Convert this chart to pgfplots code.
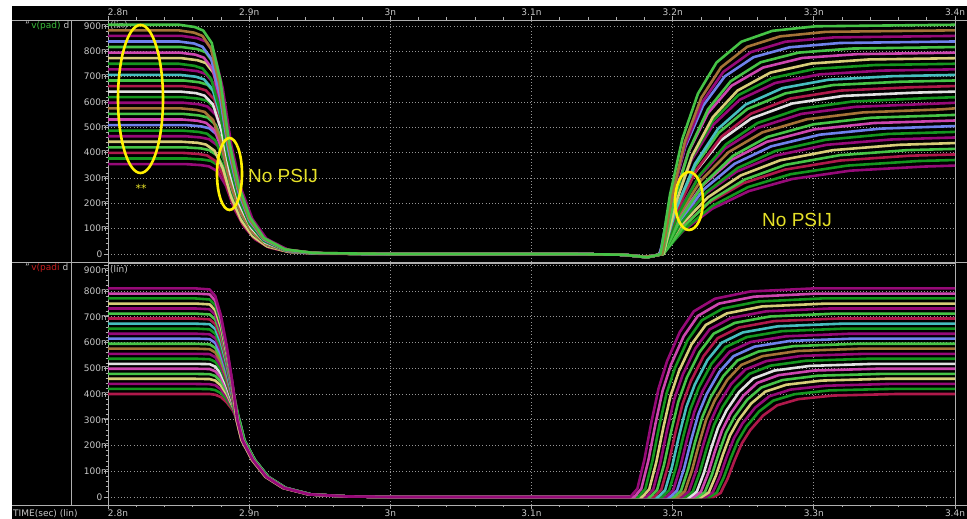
\documentclass[border=0pt]{standalone}
\usepackage{pgfplots}
\pgfplotsset{compat=1.18}
\usepackage{fontspec}
\setmainfont{DejaVu Sans}
\newfontfamily\arialf{Liberation Sans}
\definecolor{wg}{RGB}{20,150,30}
\definecolor{wm}{RGB}{150,10,120}
\definecolor{wy}{RGB}{215,205,120}
\definecolor{wb}{RGB}{110,130,235}
\definecolor{wh}{RGB}{70,195,70}
\definecolor{wr}{RGB}{175,25,75}
\definecolor{ww}{RGB}{225,225,225}
\definecolor{wn}{RGB}{165,115,55}
\definecolor{wc}{RGB}{70,190,190}
\definecolor{wp}{RGB}{205,70,175}
\definecolor{labc}{RGB}{200,200,200}
\definecolor{axc}{RGB}{175,175,175}
\definecolor{gridc}{RGB}{150,150,150}
\definecolor{vg}{RGB}{60,190,60}
\definecolor{vr}{RGB}{200,30,30}
\definecolor{yel}{RGB}{255,240,0}
\definecolor{yel2}{RGB}{230,225,40}
\newcommand{\lbl}{\fontsize{9}{10}\selectfont}
\pgfplotsset{wave/.style={
 anchor=south west, scale only axis, width=847pt, height=242pt,
 xmin=2.8, xmax=3.4,
 xtick={2.8,2.9,3.0,3.1,3.2,3.3,3.4}, minor x tick num=4,
 ytick={0,100,200,300,400,500,600,700,800,900}, minor y tick num=4,
 xticklabels={}, yticklabels={},
 every tick label/.append style={overlay},
 ytick pos=left,
 tick align=outside,
 major tick length=4pt, minor tick length=2.5pt,
 grid=major,
 major grid style={draw=gridc, line width=0.7pt, dash pattern=on 1pt off 2.2pt},
 axis line style={draw=axc, line width=0.9pt},
 every tick/.style={draw=axc, line width=0.8pt},
 every axis plot/.append style={line width=2.6pt, line join=round},
}}
\begin{document}
\begin{tikzpicture}[x=1pt,y=1pt]
\useasboundingbox (0,0) rectangle (967,519);
\fill[white] (0,0) rectangle (967,519);
\fill[black] (12,0) rectangle (967,513);
% x tick labels
\foreach \xp/\lab in {118/2.8n,249.2/2.9n,390.3/3n,531.5/3.1n,672.7/3.2n,813.8/3.3n,955/3.4n}{
 \node[anchor=base,inner sep=0pt,text=labc,font=\lbl] at (\xp,503) {\lab};
 \node[anchor=base,inner sep=0pt,text=labc,font=\lbl] at (\xp,2.5) {\lab};
}
% y tick labels top
\foreach \yp/\lab in {290.3/100m,315.7/200m,341/300m,366.3/400m,391.7/500m,417/600m,442.3/700m,467.7/800m,493/900m}{
 \node[anchor=east,inner sep=0pt,text=labc,font=\lbl] at (110,\yp) {\lab};
}
\node[anchor=east,inner sep=0pt,text=labc,font=\lbl] at (102.5,265) {0};
\node[anchor=west,inner sep=0pt,text=labc,font=\lbl] at (110,493) {(lin)};
% y tick labels bottom
\foreach \yp/\lab in {47.75/100m,73.5/200m,99.25/300m,125/400m,150.75/500m,176.5/600m,202.25/700m,228/800m,249/900m}{
 \node[anchor=east,inner sep=0pt,text=labc,font=\lbl] at (110,\yp) {\lab};
}
\node[anchor=east,inner sep=0pt,text=labc,font=\lbl] at (102.5,22) {0};
\node[anchor=west,inner sep=0pt,text=labc,font=\lbl] at (110,249) {(lin)};
\node[anchor=base west,inner sep=0pt,font=\lbl] at (25,490.5) {\textcolor{labc}{"}\,\textcolor{vg}{v(pad)}~\textcolor{labc}{d}};
\node[anchor=base west,inner sep=0pt,font=\lbl] at (25,248.5) {\textcolor{labc}{"}\,\textcolor{vr}{v(padi}~\textcolor{labc}{d}};
\node[anchor=base west,inner sep=0pt,text=labc,font=\lbl] at (13,2.5) {TIME(sec) (lin)};

% ---------------- top panel: v(pad) ----------------
\begin{axis}[wave, at={(108pt,257pt)}, ymin=-31.6, ymax=923.8, xtick pos=right]
\addplot[wm] coordinates {(2.8,355) (2.83,355) (2.8545,355) (2.8655,351) (2.8715,346) (2.8775,327) (2.8835,270) (2.8895,178) (2.8965,107) (2.9045,57) (2.9145,25) (2.9295,7) (2.9495,1) (3.0,0) (3.13,0) (3.165,-3) (3.180,-11) (3.187,-7) (3.192,0) (3.2075,92) (3.2281,179) (3.2538,248) (3.2847,296) (3.3259,329) (3.3774,345) (3.4,349)};
\addplot[wg] coordinates {(2.8,377) (2.83,377) (2.8558,377) (2.8668,373) (2.8728,368) (2.8788,347) (2.8848,287) (2.8908,189) (2.8978,113) (2.9058,60) (2.9158,26) (2.9308,8) (2.9508,2) (3.0,0) (3.13,0) (3.165,-3) (3.182,-13) (3.187,-7) (3.193,0) (3.2081,98) (3.2282,190) (3.2534,264) (3.2835,315) (3.3238,349) (3.3741,367) (3.4,371)};
\addplot[wr] coordinates {(2.8,399) (2.83,399) (2.8532,399) (2.8642,395) (2.8702,389) (2.8762,367) (2.8822,303) (2.8882,200) (2.8952,120) (2.9032,64) (2.9132,28) (2.9282,8) (2.9482,2) (3.0,0) (3.13,0) (3.165,-3) (3.180,-11) (3.187,-7) (3.191,0) (3.2057,103) (3.2254,201) (3.2499,279) (3.2794,333) (3.3187,369) (3.3678,388) (3.4,393)};
\addplot[wh] coordinates {(2.8,421) (2.83,421) (2.8548,421) (2.8658,417) (2.8718,410) (2.8778,387) (2.8838,320) (2.8898,211) (2.8968,126) (2.9048,67) (2.9148,29) (2.9298,8) (2.9498,2) (3.0,0) (3.13,0) (3.165,-3) (3.182,-13) (3.187,-7) (3.1935,0) (3.2079,109) (3.2271,212) (3.2511,294) (3.2799,352) (3.3183,390) (3.3663,410) (3.4,415)};
\addplot[wy] coordinates {(2.8,443) (2.83,443) (2.8524,443) (2.8634,439) (2.8694,432) (2.8754,408) (2.8814,337) (2.8874,222) (2.8944,133) (2.9024,71) (2.9124,31) (2.9274,9) (2.9474,2) (3.0,0) (3.13,0) (3.165,-3) (3.180,-11) (3.187,-7) (3.192,0) (3.2060,115) (3.2248,223) (3.2482,310) (3.2762,370) (3.3137,410) (3.3605,431) (3.4,438)};
\addplot[wm] coordinates {(2.8,465) (2.83,465) (2.8547,465) (2.8657,460) (2.8717,453) (2.8777,428) (2.8837,353) (2.8897,233) (2.8967,140) (2.9047,74) (2.9147,33) (2.9297,9) (2.9497,2) (3.0,0) (3.13,0) (3.165,-3) (3.182,-13) (3.187,-7) (3.1905,0) (3.2042,120) (3.2224,234) (3.2452,325) (3.2726,388) (3.3091,431) (3.3547,452) (3.4,460)};
\addplot[wg] coordinates {(2.8,487) (2.83,487) (2.8531,487) (2.8641,482) (2.8701,475) (2.8761,448) (2.8821,370) (2.8881,244) (2.8951,146) (2.9031,78) (2.9131,34) (2.9281,10) (2.9481,2) (3.0,0) (3.13,0) (3.165,-3) (3.180,-11) (3.187,-7) (3.193,0) (3.2063,126) (3.2241,245) (3.2463,340) (3.2729,407) (3.3084,451) (3.3528,474) (3.4,482)};
\addplot[wb] coordinates {(2.8,509) (2.83,509) (2.8549,509) (2.8659,504) (2.8719,496) (2.8779,468) (2.8839,387) (2.8899,255) (2.8969,153) (2.9049,81) (2.9149,36) (2.9299,10) (2.9499,2) (3.0,0) (3.13,0) (3.165,-3) (3.182,-13) (3.187,-7) (3.192,0) (3.2050,132) (3.2222,256) (3.2438,356) (3.2698,425) (3.3043,471) (3.3475,495) (3.4,505)};
\addplot[wp] coordinates {(2.8,531) (2.83,531) (2.8524,531) (2.8634,526) (2.8694,518) (2.8754,489) (2.8814,404) (2.8874,266) (2.8944,159) (2.9024,85) (2.9124,37) (2.9274,11) (2.9474,2) (3.0,0) (3.13,0) (3.165,-3) (3.180,-11) (3.187,-7) (3.191,0) (3.2036,138) (3.2205,267) (3.2415,371) (3.2668,443) (3.3005,492) (3.3426,517) (3.4,527)};
\addplot[wh] coordinates {(2.8,553) (2.83,553) (2.8535,553) (2.8645,547) (2.8705,539) (2.8765,509) (2.8825,420) (2.8885,277) (2.8955,166) (2.9035,88) (2.9135,39) (2.9285,11) (2.9485,2) (3.0,0) (3.13,0) (3.165,-3) (3.182,-13) (3.187,-7) (3.1935,0) (3.2058,143) (3.2221,278) (3.2426,387) (3.2671,462) (3.2998,512) (3.3407,538) (3.4,549)};
\addplot[wn] coordinates {(2.8,575) (2.83,575) (2.8514,575) (2.8624,569) (2.8684,561) (2.8744,529) (2.8804,437) (2.8864,288) (2.8934,173) (2.9014,92) (2.9114,40) (2.9264,12) (2.9464,2) (3.0,0) (3.13,0) (3.165,-3) (3.180,-11) (3.187,-7) (3.192,0) (3.2039,149) (3.2198,289) (3.2396,402) (3.2635,480) (3.2952,532) (3.3349,559) (3.3905,571) (3.4,575)};
\addplot[wm] coordinates {(2.8,597) (2.83,597) (2.8535,597) (2.8645,591) (2.8705,582) (2.8765,549) (2.8825,454) (2.8885,299) (2.8955,179) (2.9035,96) (2.9135,42) (2.9285,12) (2.9485,2) (3.0,0) (3.13,0) (3.165,-3) (3.182,-13) (3.187,-7) (3.191,0) (3.2026,155) (3.2180,300) (3.2372,417) (3.2603,498) (3.2911,553) (3.3296,581) (3.3835,593) (3.4,597)};
\addplot[wg] coordinates {(2.8,619) (2.83,619) (2.8536,619) (2.8646,613) (2.8706,604) (2.8766,569) (2.8826,470) (2.8886,310) (2.8956,186) (2.9036,99) (2.9136,43) (2.9286,12) (2.9486,2) (3.0,0) (3.13,0) (3.165,-3) (3.180,-11) (3.187,-7) (3.193,0) (3.2042,160) (3.2191,311) (3.2378,433) (3.2601,517) (3.2900,573) (3.3273,602) (3.3795,615) (3.4,619)};
\addplot[ww] coordinates {(2.8,641) (2.83,641) (2.8514,641) (2.8624,635) (2.8684,625) (2.8744,590) (2.8804,487) (2.8864,321) (2.8934,192) (2.9014,103) (2.9114,45) (2.9264,13) (2.9464,3) (3.0,0) (3.13,0) (3.165,-3) (3.182,-13) (3.187,-7) (3.1905,0) (3.2014,166) (3.2158,322) (3.2339,448) (3.2557,535) (3.2846,594) (3.3208,624) (3.3715,637) (3.4,641)};
\addplot[wr] coordinates {(2.8,663) (2.83,663) (2.8523,663) (2.8633,656) (2.8693,646) (2.8753,610) (2.8813,504) (2.8873,332) (2.8943,199) (2.9023,106) (2.9123,46) (2.9273,13) (2.9473,3) (3.0,0) (3.13,0) (3.165,-3) (3.180,-11) (3.187,-7) (3.1925,0) (3.2030,172) (3.2170,333) (3.2345,463) (3.2555,554) (3.2835,614) (3.3185,645) (3.3675,658) (3.4,663)};
\addplot[wh] coordinates {(2.8,685) (2.83,685) (2.8536,685) (2.8646,678) (2.8706,668) (2.8766,630) (2.8826,521) (2.8886,343) (2.8956,206) (2.9036,110) (2.9136,48) (2.9286,14) (2.9486,3) (3.0,0) (3.13,0) (3.165,-3) (3.182,-13) (3.187,-7) (3.192,0) (3.2021,177) (3.2157,345) (3.2326,479) (3.2528,572) (3.2799,634) (3.3137,667) (3.3610,680) (3.4,685)};
\addplot[wc] coordinates {(2.8,707) (2.83,707) (2.8511,707) (2.8621,700) (2.8681,689) (2.8741,650) (2.8801,537) (2.8861,354) (2.8931,212) (2.9011,113) (2.9111,49) (2.9261,14) (2.9461,3) (3.0,0) (3.13,0) (3.165,-3) (3.180,-11) (3.187,-7) (3.193,0) (3.2028,183) (3.2158,356) (3.2321,494) (3.2517,590) (3.2778,655) (3.3104,688) (3.3560,702) (3.4,707)};
\addplot[wm] coordinates {(2.8,729) (2.83,729) (2.8522,729) (2.8632,722) (2.8692,711) (2.8752,671) (2.8812,554) (2.8872,365) (2.8942,219) (2.9022,117) (2.9122,51) (2.9272,15) (2.9472,3) (3.0,0) (3.13,0) (3.165,-3) (3.182,-13) (3.187,-7) (3.191,0) (3.2004,189) (3.2130,367) (3.2287,510) (3.2475,609) (3.2726,675) (3.3040,709) (3.3480,724) (3.4,729)};
\addplot[wg] coordinates {(2.8,751) (2.83,751) (2.8501,751) (2.8611,743) (2.8671,732) (2.8731,691) (2.8791,571) (2.8851,376) (2.8921,225) (2.9001,120) (2.9101,53) (2.9251,15) (2.9451,3) (3.0,0) (3.13,0) (3.165,-3) (3.180,-11) (3.187,-7) (3.192,0) (3.2011,195) (3.2132,378) (3.2284,525) (3.2465,627) (3.2708,695) (3.3011,731) (3.3435,746) (3.4,751)};
\addplot[wy] coordinates {(2.8,773) (2.83,773) (2.8523,773) (2.8633,765) (2.8693,754) (2.8753,711) (2.8813,587) (2.8873,387) (2.8943,232) (2.9023,124) (2.9123,54) (2.9273,15) (2.9473,3) (3.0,0) (3.13,0) (3.165,-3) (3.182,-13) (3.187,-7) (3.1935,0) (3.2022,200) (3.2139,389) (3.2284,540) (3.2459,645) (3.2692,716) (3.2983,752) (3.3390,768) (3.4,773)};
\addplot[wp] coordinates {(2.8,795) (2.83,795) (2.8509,795) (2.8619,787) (2.8679,775) (2.8739,731) (2.8799,604) (2.8859,398) (2.8929,239) (2.9009,127) (2.9109,56) (2.9259,16) (2.9459,3) (3.0,0) (3.13,0) (3.165,-3) (3.180,-11) (3.187,-7) (3.1915,0) (3.1999,206) (3.2110,400) (3.2250,556) (3.2417,664) (3.2640,736) (3.2919,774) (3.3310,789) (3.4,795)};
\addplot[wh] coordinates {(2.8,817) (2.83,817) (2.8521,817) (2.8631,809) (2.8691,797) (2.8751,752) (2.8811,621) (2.8871,409) (2.8941,245) (2.9021,131) (2.9121,57) (2.9271,16) (2.9471,3) (3.0,0) (3.13,0) (3.165,-3) (3.182,-13) (3.187,-7) (3.193,0) (3.2010,212) (3.2117,411) (3.2250,571) (3.2411,682) (3.2624,757) (3.2891,795) (3.3265,811) (3.4,817)};
\addplot[wb] coordinates {(2.8,839) (2.83,839) (2.8500,839) (2.8610,831) (2.8670,818) (2.8730,772) (2.8790,638) (2.8850,420) (2.8920,252) (2.9000,134) (2.9100,59) (2.9250,17) (2.9450,3) (3.0,0) (3.13,0) (3.165,-3) (3.180,-11) (3.187,-7) (3.191,0) (3.1987,217) (3.2089,422) (3.2216,586) (3.2369,701) (3.2573,777) (3.2828,816) (3.3185,833) (3.4,839)};
\addplot[wm] coordinates {(2.8,861) (2.83,861) (2.8523,861) (2.8633,852) (2.8693,839) (2.8753,792) (2.8813,654) (2.8873,431) (2.8943,258) (2.9023,138) (2.9123,60) (2.9273,17) (2.9473,3) (3.0,0) (3.13,0) (3.165,-3) (3.182,-13) (3.187,-7) (3.192,0) (3.1993,223) (3.2091,433) (3.2213,602) (3.2359,719) (3.2554,797) (3.2798,838) (3.3140,855) (3.4,861)};
\addplot[wn] coordinates {(2.8,883) (2.83,883) (2.8499,883) (2.8609,874) (2.8669,861) (2.8729,812) (2.8789,671) (2.8849,442) (2.8919,265) (2.8999,141) (2.9099,62) (2.9249,18) (2.9449,4) (3.0,0) (3.13,0) (3.165,-3) (3.180,-11) (3.187,-7) (3.1925,0) (3.1995,229) (3.2087,444) (3.2203,617) (3.2343,737) (3.2528,818) (3.2760,859) (3.3085,877) (3.4,883)};
\addplot[wh] coordinates {(2.8,905) (2.83,905) (2.8505,905) (2.8615,896) (2.8675,882) (2.8735,833) (2.8795,688) (2.8855,453) (2.8925,272) (2.9005,145) (2.9105,63) (2.9255,18) (2.9455,4) (3.0,0) (3.13,0) (3.165,-3) (3.182,-13) (3.187,-7) (3.1915,0) (3.1981,234) (3.2069,455) (3.2179,633) (3.2311,756) (3.2487,838) (3.2707,881) (3.3015,899) (3.4,905)};
\end{axis}

% ---------------- bottom panel: v(padi) ----------------
\begin{axis}[wave, at={(108pt,14pt)}, ymin=-31.1, ymax=908.7, xtick pos=left]
\addplot[wr] coordinates {(2.8,400) (2.84,400) (2.862,400) (2.872,400) (2.876,397) (2.880,388) (2.884,368) (2.888,340) (2.892,300) (2.8956,221) (2.903,144) (2.9126,78) (2.925,35) (2.943,10) (2.97,2) (3.0,0) (3.229,0) (3.234,16) (3.239,72) (3.244,144) (3.249,208) (3.255,260) (3.264,316) (3.274,356) (3.289,380) (3.314,394) (3.359,400) (3.4,400)};
\addplot[wg] coordinates {(2.8,420) (2.84,420) (2.862,420) (2.872,419) (2.876,415) (2.880,403) (2.884,379) (2.888,345) (2.893,300) (2.8966,221) (2.904,144) (2.9136,78) (2.926,35) (2.944,10) (2.97,2) (3.0,0) (3.2262,0) (3.2312,17) (3.2362,76) (3.2412,151) (3.2462,218) (3.2522,273) (3.2612,332) (3.2712,374) (3.2862,399) (3.3112,414) (3.3562,420) (3.4,420)};
\addplot[wm] coordinates {(2.8,439) (2.84,439) (2.862,439) (2.872,438) (2.876,434) (2.880,418) (2.884,389) (2.888,350) (2.891,300) (2.8946,221) (2.902,144) (2.9116,78) (2.924,35) (2.942,10) (2.97,2) (3.0,0) (3.2234,0) (3.2284,18) (3.2334,79) (3.2384,158) (3.2434,228) (3.2494,285) (3.2584,347) (3.2684,391) (3.2834,417) (3.3084,432) (3.3534,439) (3.4,439)};
\addplot[wy] coordinates {(2.8,459) (2.84,459) (2.862,459) (2.872,458) (2.876,452) (2.880,433) (2.884,400) (2.888,356) (2.8925,300) (2.8961,221) (2.9035,144) (2.9131,78) (2.9255,35) (2.9435,10) (2.97,2) (3.0,0) (3.2206,0) (3.2256,18) (3.2306,83) (3.2356,165) (3.2406,239) (3.2466,298) (3.2556,363) (3.2656,409) (3.2806,436) (3.3056,452) (3.3506,459) (3.4,459)};
\addplot[wh] coordinates {(2.8,478) (2.84,478) (2.862,478) (2.872,477) (2.876,470) (2.880,448) (2.884,410) (2.888,361) (2.8915,300) (2.8951,221) (2.9025,144) (2.9121,78) (2.9245,35) (2.9425,10) (2.97,2) (3.0,0) (3.2178,0) (3.2228,19) (3.2278,86) (3.2328,172) (3.2378,249) (3.2438,311) (3.2528,378) (3.2628,425) (3.2778,454) (3.3028,471) (3.3478,478) (3.4,478)};
\addplot[wp] coordinates {(2.8,498) (2.84,498) (2.862,498) (2.872,497) (2.876,488) (2.880,464) (2.884,421) (2.888,366) (2.893,300) (2.8966,221) (2.904,144) (2.9136,78) (2.926,35) (2.944,10) (2.97,2) (3.0,0) (3.215,0) (3.220,20) (3.225,90) (3.230,179) (3.235,259) (3.241,324) (3.250,393) (3.260,443) (3.275,473) (3.300,491) (3.345,498) (3.4,498)};
\addplot[ww] coordinates {(2.8,517) (2.84,517) (2.862,517) (2.872,516) (2.876,506) (2.880,479) (2.884,431) (2.888,371) (2.892,300) (2.8956,221) (2.903,144) (2.9126,78) (2.925,35) (2.943,10) (2.97,2) (3.0,0) (3.2121,0) (3.2171,21) (3.2221,93) (3.2271,186) (3.2321,269) (3.2381,336) (3.2471,408) (3.2571,460) (3.2721,491) (3.2971,509) (3.3421,517) (3.4,517)};
\addplot[wg] coordinates {(2.8,537) (2.84,537) (2.862,537) (2.872,535) (2.876,525) (2.880,494) (2.884,442) (2.888,377) (2.891,300) (2.8946,221) (2.902,144) (2.9116,78) (2.924,35) (2.942,10) (2.97,2) (3.0,0) (3.2093,0) (3.2143,21) (3.2193,97) (3.2243,193) (3.2293,279) (3.2353,349) (3.2443,424) (3.2543,478) (3.2693,510) (3.2943,529) (3.3393,537) (3.4,537)};
\addplot[wm] coordinates {(2.8,556) (2.84,556) (2.862,556) (2.872,555) (2.876,543) (2.880,509) (2.884,453) (2.888,382) (2.8925,300) (2.8961,221) (2.9035,144) (2.9131,78) (2.9255,35) (2.9435,10) (2.97,2) (3.0,0) (3.2065,0) (3.2115,22) (3.2165,100) (3.2215,200) (3.2265,289) (3.2325,361) (3.2415,439) (3.2515,495) (3.2665,528) (3.2915,548) (3.3365,556) (3.4,556)};
\addplot[wn] coordinates {(2.8,576) (2.84,576) (2.862,576) (2.872,574) (2.876,561) (2.880,524) (2.884,463) (2.888,387) (2.892,300) (2.8956,221) (2.903,144) (2.9126,78) (2.925,35) (2.943,10) (2.97,2) (3.0,0) (3.2037,0) (3.2087,23) (3.2137,104) (3.2187,207) (3.2237,300) (3.2297,374) (3.2387,455) (3.2487,513) (3.2637,547) (3.2887,567) (3.3337,576) (3.4,576)};
\addplot[wh] coordinates {(2.8,595) (2.84,595) (2.862,595) (2.872,593) (2.876,579) (2.880,539) (2.884,474) (2.888,392) (2.8915,300) (2.8951,221) (2.9025,144) (2.9121,78) (2.9245,35) (2.9425,10) (2.97,2) (3.0,0) (3.2009,0) (3.2059,24) (3.2109,107) (3.2159,214) (3.2209,309) (3.2269,387) (3.2359,470) (3.2459,530) (3.2609,565) (3.2859,586) (3.3309,595) (3.4,595)};
\addplot[wb] coordinates {(2.8,615) (2.84,615) (2.862,615) (2.872,613) (2.876,598) (2.880,554) (2.884,484) (2.888,398) (2.893,300) (2.8966,221) (2.904,144) (2.9136,78) (2.926,35) (2.944,10) (2.97,2) (3.0,0) (3.1981,0) (3.2031,25) (3.2081,111) (3.2131,221) (3.2181,320) (3.2241,400) (3.2331,486) (3.2431,547) (3.2581,584) (3.2831,606) (3.3281,615) (3.4,615)};
\addplot[wm] coordinates {(2.8,634) (2.84,634) (2.862,634) (2.872,632) (2.876,616) (2.880,569) (2.884,495) (2.888,403) (2.891,300) (2.8946,221) (2.902,144) (2.9116,78) (2.924,35) (2.942,10) (2.97,2) (3.0,0) (3.1953,0) (3.2003,25) (3.2053,114) (3.2103,228) (3.2153,330) (3.2213,412) (3.2303,501) (3.2403,564) (3.2553,602) (3.2803,624) (3.3253,634) (3.4,634)};
\addplot[wg] coordinates {(2.8,654) (2.84,654) (2.862,654) (2.872,651) (2.876,634) (2.880,584) (2.884,505) (2.888,408) (2.892,300) (2.8956,221) (2.903,144) (2.9126,78) (2.925,35) (2.943,10) (2.97,2) (3.0,0) (3.1925,0) (3.1975,26) (3.2025,118) (3.2075,235) (3.2125,340) (3.2185,425) (3.2275,517) (3.2375,582) (3.2525,621) (3.2775,644) (3.3225,654) (3.4,654)};
\addplot[wc] coordinates {(2.8,673) (2.84,673) (2.862,673) (2.872,671) (2.876,652) (2.880,599) (2.884,516) (2.888,413) (2.8925,300) (2.8961,221) (2.9035,144) (2.9131,78) (2.9255,35) (2.9435,10) (2.97,2) (3.0,0) (3.1897,0) (3.1947,27) (3.1997,121) (3.2047,242) (3.2097,350) (3.2157,437) (3.2247,532) (3.2347,599) (3.2497,639) (3.2747,663) (3.3197,673) (3.4,673)};
\addplot[wr] coordinates {(2.8,693) (2.84,693) (2.862,693) (2.872,690) (2.876,671) (2.880,614) (2.884,527) (2.888,419) (2.8915,300) (2.8951,221) (2.9025,144) (2.9121,78) (2.9245,35) (2.9425,10) (2.97,2) (3.0,0) (3.1869,0) (3.1919,28) (3.1969,125) (3.2019,249) (3.2069,360) (3.2129,450) (3.2219,547) (3.2319,617) (3.2469,658) (3.2719,683) (3.3169,693) (3.4,693)};
\addplot[wh] coordinates {(2.8,712) (2.84,712) (2.862,712) (2.872,709) (2.876,689) (2.880,630) (2.884,537) (2.888,424) (2.893,300) (2.8966,221) (2.904,144) (2.9136,78) (2.926,35) (2.944,10) (2.97,2) (3.0,0) (3.184,0) (3.189,28) (3.194,128) (3.199,256) (3.204,370) (3.210,463) (3.219,562) (3.229,634) (3.244,676) (3.269,701) (3.314,712) (3.4,712)};
\addplot[wm] coordinates {(2.8,732) (2.84,732) (2.862,732) (2.872,729) (2.876,707) (2.880,645) (2.884,548) (2.888,429) (2.892,300) (2.8956,221) (2.903,144) (2.9126,78) (2.925,35) (2.943,10) (2.97,2) (3.0,0) (3.1812,0) (3.1862,29) (3.1912,132) (3.1962,264) (3.2012,381) (3.2072,476) (3.2162,578) (3.2262,651) (3.2412,695) (3.2662,721) (3.3112,732) (3.4,732)};
\addplot[wy] coordinates {(2.8,751) (2.84,751) (2.862,751) (2.872,748) (2.876,725) (2.880,660) (2.884,558) (2.888,434) (2.891,300) (2.8946,221) (2.902,144) (2.9116,78) (2.924,35) (2.942,10) (2.97,2) (3.0,0) (3.1784,0) (3.1834,30) (3.1884,135) (3.1934,270) (3.1984,391) (3.2044,488) (3.2134,593) (3.2234,668) (3.2384,713) (3.2634,740) (3.3084,751) (3.4,751)};
\addplot[wg] coordinates {(2.8,771) (2.84,771) (2.862,771) (2.872,767) (2.876,744) (2.880,675) (2.884,569) (2.888,440) (2.8925,300) (2.8961,221) (2.9035,144) (2.9131,78) (2.9255,35) (2.9435,10) (2.97,2) (3.0,0) (3.1756,0) (3.1806,31) (3.1856,139) (3.1906,278) (3.1956,401) (3.2016,501) (3.2106,609) (3.2206,686) (3.2356,732) (3.2606,759) (3.3056,771) (3.4,771)};
\addplot[wp] coordinates {(2.8,790) (2.84,790) (2.862,790) (2.872,787) (2.876,762) (2.880,690) (2.884,579) (2.888,445) (2.892,300) (2.8956,221) (2.903,144) (2.9126,78) (2.925,35) (2.943,10) (2.97,2) (3.0,0) (3.1728,0) (3.1778,32) (3.1828,142) (3.1878,284) (3.1928,411) (3.1988,514) (3.2078,624) (3.2178,703) (3.2328,751) (3.2578,778) (3.3028,790) (3.4,790)};
\addplot[wm] coordinates {(2.8,810) (2.84,810) (2.862,810) (2.872,806) (2.876,780) (2.880,705) (2.884,590) (2.888,450) (2.8915,300) (2.8951,221) (2.9025,144) (2.9121,78) (2.9245,35) (2.9425,10) (2.97,2) (3.0,0) (3.170,0) (3.175,32) (3.180,146) (3.185,292) (3.190,421) (3.196,527) (3.205,640) (3.215,721) (3.230,770) (3.255,798) (3.300,810) (3.4,810)};
\end{axis}

% frame lines
\draw[axc, line width=0.9pt] (12,499) -- (967,499);
\draw[axc, line width=0.9pt] (12,256.5) -- (967,256.5);
\draw[axc, line width=0.9pt] (12,14) -- (967,14);
\draw[axc, line width=0.9pt] (71,14) -- (71,499);
% annotations
\draw[yel, line width=2.6pt] (140.5,420) ellipse [x radius=22.5pt, y radius=74pt];
\draw[yel, line width=2.6pt] (229.5,345) ellipse [x radius=12.5pt, y radius=36pt];
\draw[yel, line width=2.6pt] (689,318) ellipse [x radius=14pt, y radius=29pt];
\node[anchor=west, inner sep=0pt, text=yel2, font=\arialf\fontsize{19}{19}\selectfont] at (248,343) {No PSIJ};
\node[anchor=west, inner sep=0pt, text=yel2, font=\arialf\fontsize{19}{19}\selectfont] at (762,299) {No PSIJ};
\node[inner sep=0pt, text=yel2, font=\fontsize{11}{12}\selectfont] at (141,331) {**};
\end{tikzpicture}
\end{document}
